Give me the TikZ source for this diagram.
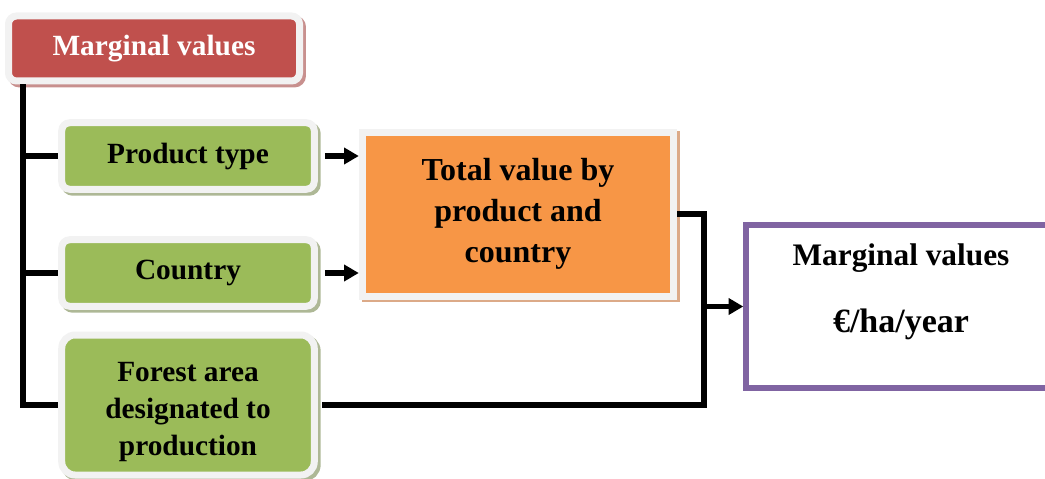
\documentclass[tikz,border=0pt]{standalone}
\usepackage{fontspec}
\setmainfont{Liberation Serif}
\usetikzlibrary{arrows.meta,shadows}

\definecolor{frame}{HTML}{F2F2F2}
\definecolor{redbox}{HTML}{C0504D}
\definecolor{redshade}{HTML}{C8908E}
\definecolor{greenbox}{HTML}{9BBB59}
\definecolor{greenshade}{HTML}{AEB896}
\definecolor{orangebox}{HTML}{F79646}
\definecolor{orangeshade}{HTML}{DCAA88}
\definecolor{purplebox}{HTML}{8064A2}

\tikzset{
  tile/.style={draw=frame, line width=5.25pt, inner sep=0pt, align=center},
  shade/.style={drop shadow={shadow xshift=2.2pt, shadow yshift=-2.2pt,
      fill=#1, draw=#1, line width=5.25pt, opacity=1}},
  redtile/.style={tile, shade=redshade, fill=redbox, text=white, rounded corners=6pt,
      minimum width=218.25pt, minimum height=48.75pt,
      font=\bfseries\fontsize{22}{27}\selectfont},
  greentile/.style={tile, shade=greenshade, fill=greenbox, rounded corners=6pt,
      minimum width=189.4pt, minimum height=49.9pt,
      font=\bfseries\fontsize{22}{27.75}\selectfont},
  orangetile/.style={tile, shade=orangeshade, fill=orangebox,
      minimum width=233.6pt, minimum height=123pt,
      font=\bfseries\fontsize{24}{30.75}\selectfont},
  result/.style={draw=purplebox, line width=4.1pt, fill=white,
      minimum width=232.5pt, minimum height=122.25pt},
  link/.style={line width=3.8pt, line join=miter},
  arrow/.style={link, -{Triangle[length=11pt,width=12pt]}},
}

\begin{document}
\begin{tikzpicture}[x=0.75pt, y=-0.75pt]
  \clip (0,0) rectangle (1045,478);

  % boxes
  \node[redtile] (marginal) at (154,48.5) {Marginal values};
  \node[greentile] (product) at (188,156) {Product type};
  \node[greentile] (country) at (188,273) {Country};
  \node[greentile, minimum height=105pt, rounded corners=10pt] (forest) at (188,405)
      {\\[-3pt]Forest area\\designated to\\production};
  \node[orangetile] (total) at (518,214) {Total value by\\product and\\country};
  \node[result] (result) at (901,306.5) {};
  \node[align=center, font=\bfseries\fontsize{23.5}{50}\selectfont] (unit) at (901,292)
      {Marginal values\\{\fontsize{25.5}{50}\selectfont €/ha/year}};

  % tree on the left
  \coordinate (trunk) at ([xshift=13.5pt]marginal.south west);
  \draw[link] (trunk) |- (forest.west);
  \draw[link] (trunk |- product) -- (product.west);
  \draw[link] (trunk |- country) -- (country.west);

  % arrows into the total
  \draw[arrow] ([xshift=5.25pt]product.east) -- (product.east -| total.west);
  \draw[arrow] ([xshift=5.25pt]country.east) -- (country.east -| total.west);

  % merge into the result
  \coordinate (join) at (704,306.5);
  \draw[link] (total.east) -| (join);
  \draw[link] ([xshift=3.5pt]forest.east) -| (join);
  \draw[arrow] (join) -- (result);
\end{tikzpicture}
\end{document}
